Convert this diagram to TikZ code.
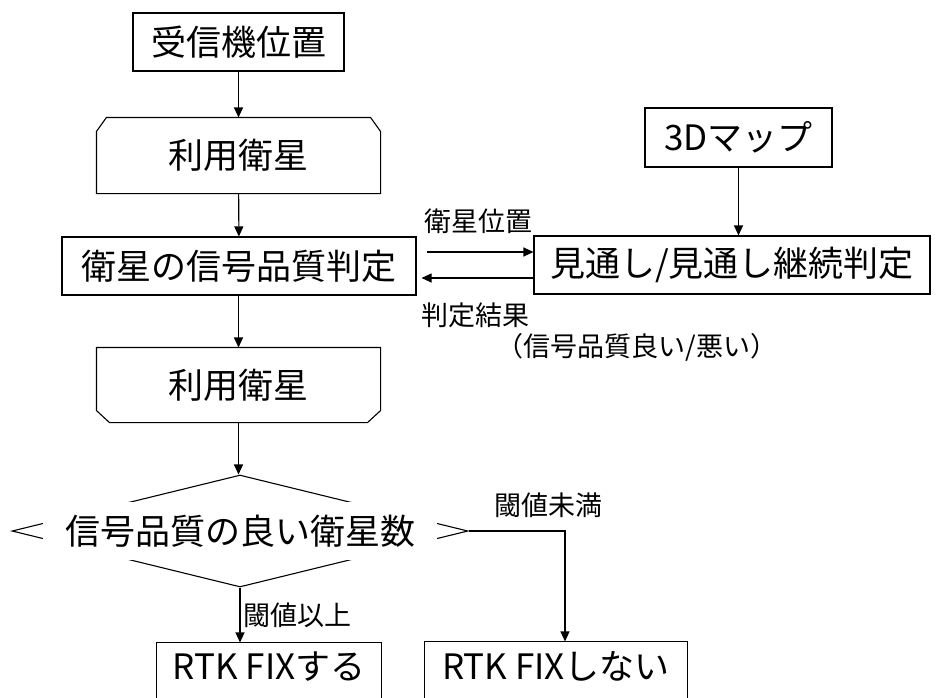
\documentclass[tikz,border=0pt]{standalone}
\usepackage{fontspec}
\setmainfont{Noto Sans CJK JP}
\usetikzlibrary{arrows.meta,calc,shapes.geometric}
\begin{document}
\begin{tikzpicture}[x=1pt,y=-1pt,
  line width=1.1pt,
  arr/.style={-{Triangle[width=9pt,length=10pt]}},
  big/.style={inner sep=0pt,font=\fontsize{35}{40}\selectfont},
  box/.style={big,draw,rectangle},
  lbl/.style={inner sep=0pt,font=\fontsize{27}{30}\selectfont}]
\useasboundingbox (0,0) rectangle (936,697);
\clip (0,0) rectangle (936,697);

% left column
\node[box,minimum width=211pt,minimum height=58pt] (pos) at (238.5,42) {受信機位置};
\node[big,minimum width=283pt,minimum height=75pt] (use1) at (238.5,155.5) {利用衛星};
\draw (use1.south west) -- ($(use1.north west)+(0,14)$) -- ($(use1.north west)+(10,0)$)
  -- ($(use1.north east)+(-10,0)$) -- ($(use1.north east)+(0,14)$) -- (use1.south east) -- cycle;
\node[box,minimum width=354pt,minimum height=58pt] (judge) at (239,266) {衛星の信号品質判定};
\node[big,minimum width=283pt,minimum height=74pt] (use2) at (238.5,385) {利用衛星};
\draw (use2.north west) -- (use2.north east) -- ($(use2.south east)+(0,-12)$)
  -- ($(use2.south east)+(-13,0)$) -- ($(use2.south west)+(13,0)$) -- ($(use2.south west)+(0,-12)$) -- cycle;

% decision
\node[draw,diamond,minimum width=456pt,minimum height=112pt,inner sep=0pt] (dec) at (240,531) {};
\node[big,fill=white,minimum width=394pt,minimum height=58pt] (dectext) at (240,531) {信号品質の良い衛星数};

% right column
\node[box,minimum width=187pt,minimum height=59pt] (map) at (738.5,137.5) {3Dマップ};
\node[box,minimum width=396pt,minimum height=58pt] (los) at (732,265) {見通し/見通し継続判定};

% bottom boxes
\node[big,minimum width=224pt,minimum height=48pt] (yes) at (269,667) {RTK FIXする};
\draw (yes.north west) rectangle ($(yes.south east)+(0,20)$);
\node[big,minimum width=262pt,minimum height=48pt] (no) at (556,666) {RTK FIXしない};
\draw (no.north west) rectangle ($(no.south east)+(0,20)$);

% connectors
\draw[arr] (pos.south -| use1.north) -- (use1.north);
\draw[arr] (use1) -- (judge);
\draw[arr] (judge.south -| use2.north) -- (use2.north);
\draw[arr] (use2.south) -- (use2.south |- dec.north);
\draw[arr] (map.south) -- (map.south |- los.north);
\draw[arr] ($(judge.east)+(10,-14)$) -- ($(los.west |- judge.east)+(0,-14)$);
\draw[arr] ($(los.west |- judge.east)+(0,12)$) -- ($(judge.east)+(5,12)$);
\coordinate (rb) at (565,531);
\draw[arr] (dec.east) -- (rb) -- (rb |- no.north);
\draw[arr] (dec.south) -- (dec.south |- yes.north);

% labels
\node[lbl] (l1) at (478,221) {衛星位置};
\node[lbl] (l2) at (475,315) {判定結果};
\node[lbl] (l3) at (637,347) {（信号品質良い/悪い）};
\node[lbl] (l4) at (548,505) {閾値未満};
\node[lbl] (l5) at (297,615) {閾値以上};
\end{tikzpicture}
\end{document}
